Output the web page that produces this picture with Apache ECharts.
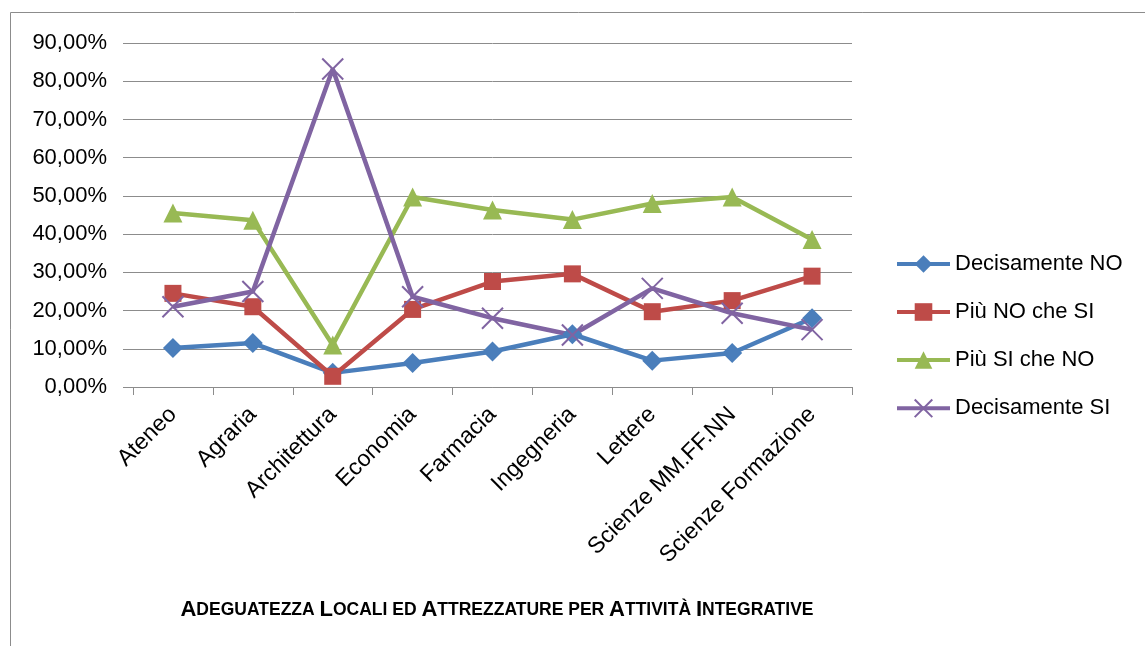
<!DOCTYPE html>
<html>
<head>
<meta charset="utf-8">
<title>Adeguatezza Locali ed Attrezzature</title>
<script src="https://cdn.jsdelivr.net/npm/echarts@6/dist/echarts.min.js"></script>
<style>
    html, body { margin: 0; padding: 0; background: #fff; }
    #echarts { width: 1145px; height: 646px; }
</style>
</head>
<body>
<div id="echarts"></div>
<script>
// categorie (facoltà)
var facolta = ['Ateneo', 'Agraria', 'Architettura', 'Economia', 'Farmacia', 'Ingegneria', 'Lettere', 'Scienze MM.FF.NN', 'Scienze Formazione']

// valori (frazioni)
var decisamenteNo = [0.102, 0.115, 0.037, 0.063, 0.093, 0.138, 0.069, 0.089, 0.180]
var piuNoCheSi = [0.245, 0.210, 0.028, 0.203, 0.276, 0.296, 0.197, 0.226, 0.290]
var piuSiCheNo = [0.455, 0.436, 0.110, 0.497, 0.463, 0.438, 0.480, 0.497, 0.386]
var decisamenteSi = [0.210, 0.250, 0.832, 0.236, 0.180, 0.136, 0.258, 0.193, 0.150]

var font = 'Liberation Sans'
var grigio = '#8c8c8c'

var myChart = echarts.init(document.getElementById('echarts'));

function serie(nome, dati, colore, simbolo, size) {
    return {
        name: nome,
        type: 'line',
        data: dati,
        symbol: simbolo,
        symbolSize: size,
        lineStyle: { color: colore, width: 4.5 },
        itemStyle: { color: colore, borderColor: colore, borderWidth: 0 },
        emphasis: { disabled: true }
    }
}

var serieX = serie('Decisamente SI', decisamenteSi, '#8064A2', 'path://M0,0L10,10M10,0L0,10', 21)
serieX.itemStyle.borderWidth = 2
serieX.itemStyle.color = 'none'

var option = {
    animation: false,
    textStyle: { fontFamily: font },
    graphic: [{
        type: 'rect',
        shape: { x: 10.5, y: 12.5, width: 1200, height: 700 },
        style: { fill: 'none', stroke: grigio, lineWidth: 1 },
        silent: true
    }],
    title: {
        text: '{b|A}{s|DEGUATEZZA }{b|L}{s|OCALI ED }{b|A}{s|TTREZZATURE PER }{b|A}{s|TTIVITÀ }{b|I}{s|NTEGRATIVE}',
        left: 492,
        textAlign: 'center',
        top: 594,
        textStyle: {
            rich: {
                b: { fontFamily: font, fontSize: 22, fontWeight: 'bold', color: '#000' },
                s: { fontFamily: font, fontSize: 17.5, fontWeight: 'bold', color: '#000' }
            }
        }
    },
    legend: {
        orient: 'vertical',
        left: 890,
        top: 248,
        itemWidth: 53,
        itemHeight: 22,
        itemGap: 26,
        lineStyle: { width: 4 },
        textStyle: { fontFamily: font, fontSize: 22, color: '#000' },
        data: ['Decisamente NO', 'Più NO che SI', 'Più SI che NO', 'Decisamente SI']
    },
    grid: { left: 133, top: 43, right: 293, bottom: 259 },
    xAxis: {
        type: 'category',
        data: facolta,
        boundaryGap: true,
        axisLine: { lineStyle: { color: grigio, width: 1 } },
        axisTick: { show: true, length: 8, lineStyle: { color: grigio } },
        axisLabel: { rotate: 45, interval: 0, fontFamily: font, fontSize: 23, color: '#000', margin: 24 }
    },
    yAxis: {
        type: 'value',
        min: 0,
        max: 0.9,
        interval: 0.1,
        axisLine: { show: false },
        axisTick: { show: true, length: 10, lineStyle: { color: grigio } },
        splitLine: { lineStyle: { color: grigio, width: 1 } },
        axisLabel: {
            fontFamily: font, fontSize: 22, color: '#000', margin: 26,
            formatter: function (v) {
                return (v * 100).toFixed(2).replace('.', ',') + '%'
            }
        }
    },
    series: [
        serie('Decisamente NO', decisamenteNo, '#4A7EBB', 'diamond', 20),
        serie('Più NO che SI', piuNoCheSi, '#BE4B48', 'rect', 17),
        serie('Più SI che NO', piuSiCheNo, '#98B954', 'triangle', 19),
        serieX
    ]
};

myChart.setOption(option);
</script>
</body>
</html>
